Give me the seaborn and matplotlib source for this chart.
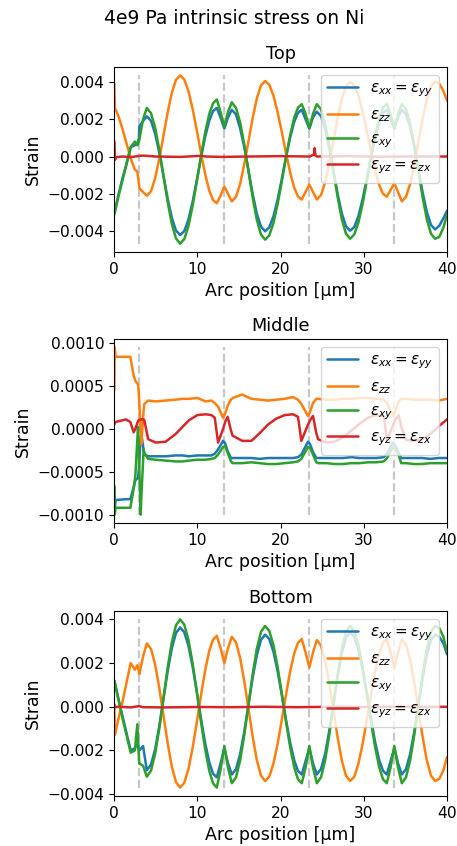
import numpy as np
import pandas as pd
import matplotlib
matplotlib.use("Agg")
import matplotlib.pyplot as plt
import seaborn as sns

# ---------------- data ----------------
labels = [r"$\varepsilon_{xx} = \varepsilon_{yy}$", r"$\varepsilon_{zz}$",
          r"$\varepsilon_{xy}$", r"$\varepsilon_{yz} = \varepsilon_{zx}$"]
panel_titles = ["Top", "Middle", "Bottom"]
interface_x = [3.04, 13.25, 23.46, 33.67]
x_ticks = [0, 10, 20, 30, 40]

# shared arc positions for the Top and Bottom panels
x_tb = [0.04, 0.1, 0.5, 1.0, 1.5, 2.0, 2.5, 2.8, 3.0,
        3.04, 3.49, 3.94, 4.44, 4.94, 5.44, 5.94, 6.44, 6.94, 7.44, 7.94, 8.44, 8.94, 9.44, 9.94,
        10.44, 10.94, 11.44, 11.89, 12.34, 12.79,
        13.25, 13.70, 14.15, 14.65, 15.15, 15.65, 16.15, 16.65, 17.15, 17.65, 18.15, 18.65, 19.15,
        19.65, 20.15, 20.65, 21.15, 21.65, 22.10, 22.55, 23.00,
        23.46, 23.91, 24.36, 24.86, 25.36, 25.86, 26.36, 26.86, 27.36, 27.86, 28.36, 28.86, 29.36,
        29.86, 30.36, 30.86, 31.36, 31.86, 32.31, 32.76, 33.21,
        33.67, 34.12, 34.57, 35.07, 35.57, 36.07, 36.57, 37.07, 37.57, 38.07, 38.57, 39.07, 39.57, 40.0]

top_xx = [-0.0029, -0.0029, -0.0021, -0.0012, -0.0004, 0.0005, 0.0006, 0.0007, 0.0010,
          0.0016, 0.0019, 0.00215, 0.00191, 0.00122, 0.00019, -0.00103, -0.00224, -0.00327, -0.00396, -0.0042,
          -0.00399, -0.00337, -0.00242, -0.00128, -0.00008, 0.00104, 0.00192, 0.00243, 0.0026, 0.0021,
          0.0015, 0.0021, 0.0025, 0.00225, 0.0015, 0.00049, -0.00075, -0.00199, -0.00305, -0.00375, -0.0040,
          -0.00379, -0.0032, -0.0023, -0.00121, -0.00005, 0.00101, 0.00186, 0.00234, 0.0025, 0.0020,
          0.0015, 0.0021, 0.0024, 0.00216, 0.00147, 0.00043, -0.00079, -0.0020, -0.00304, -0.00373, -0.00397,
          -0.00377, -0.00318, -0.00228, -0.0012, -0.00005, 0.0010, 0.00185, 0.00233, 0.0025, 0.0020,
          0.0015, 0.0021, 0.0025, 0.00226, 0.00156, 0.00053, -0.0007, -0.00193, -0.00296, -0.00366, -0.0039,
          -0.0037, -0.0033, -0.0029]
top_zz = [0.0039, 0.0026, 0.0022, 0.0015, 0.0007, -0.0001, -0.0007, -0.0008, -0.0015,
          -0.0017, -0.0019, -0.0021, -0.00186, -0.00116, -0.00011, 0.00112, 0.00235, 0.0034, 0.0041, 0.00434,
          0.00412, 0.0035, 0.00255, 0.00141, 0.0002, -0.00093, -0.00182, -0.00233, -0.0025, -0.0021,
          -0.0016, -0.0020, -0.0024, -0.00216, -0.00146, -0.00041, 0.00082, 0.00205, 0.0031, 0.0038, 0.00404,
          0.00384, 0.00326, 0.00238, 0.00132, 0.0002, -0.00084, -0.00167, -0.00214, -0.0023, -0.0019,
          -0.0015, -0.0019, -0.0023, -0.00206, -0.00138, -0.00036, 0.00085, 0.00206, 0.00308, 0.00376, 0.0040,
          0.00381, 0.00325, 0.00239, 0.00136, 0.00027, -0.00074, -0.00153, -0.00199, -0.00215, -0.0018,
          -0.00143, -0.0019, -0.0024, -0.00216, -0.00146, -0.00043, 0.0008, 0.00203, 0.00306, 0.00376, 0.0040,
          0.0039, 0.0035, 0.0030]
top_xy = [-0.0031, -0.0030, -0.0022, -0.0013, -0.0004, 0.0005, 0.0008, 0.0006, 0.0008,
          0.0009, 0.0020, 0.0026, 0.00232, 0.00154, 0.00036, -0.00103, -0.00242, -0.0036, -0.00438, -0.00466,
          -0.00442, -0.00372, -0.00264, -0.00135, 0.00001, 0.00128, 0.00228, 0.00285, 0.00305, 0.0024,
          0.0016, 0.0024, 0.0029, 0.0026, 0.00182, 0.00063, -0.00078, -0.00218, -0.00338, -0.00417, -0.00445,
          -0.00422, -0.00356, -0.00255, -0.00134, -0.00006, 0.00113, 0.00208, 0.00262, 0.0028, 0.0023,
          0.0015, 0.0023, 0.0028, 0.00253, 0.00175, 0.00058, -0.0008, -0.00218, -0.00335, -0.00413, -0.0044,
          -0.00417, -0.00352, -0.00252, -0.00131, -0.00004, 0.00114, 0.00208, 0.00262, 0.0028, 0.0023,
          0.0015, 0.0023, 0.0028, 0.00253, 0.00175, 0.00058, -0.0008, -0.00218, -0.00335, -0.00413, -0.0044,
          -0.0043, -0.0038, -0.0031]
top_yz_x = [0.05, 0.1, 0.3, 1.0, 2.0, 3.0, 3.5, 5.0, 8.0, 10.5, 11.0, 13.0, 16.0, 20.0, 23.5,
            24.0, 24.1, 24.2, 24.4, 28.0, 32.0, 36.0, 40.0]
top_yz = [0.0008, -0.00018, -0.00003, 0.0, -0.00003, 0.00003, 0.00005, 0.0, -0.00002, 0.00004, 0.0,
          -0.00002, 0.0, 0.00002, 0.0, 0.0001, 0.00045, 0.00005, 0.0, 0.00002, -0.00001, 0.0, 0.0]

x_mid = [0.04, 0.08, 0.2, 1.4, 1.96, 2.36, 2.56, 2.88, 2.96, 3.2, 3.28, 3.56, 3.64, 4.1, 5.0, 6.2, 7.4,
         8.2, 9.0, 10.0, 11.0, 11.7, 12.1, 12.5, 13.1, 13.35, 13.65, 14.05, 14.25, 15.4, 16.5, 17.5,
         18.5, 19.5, 20.5, 21.5, 22.1, 22.5, 23.3, 23.55, 23.9, 24.3, 24.5, 25.5, 26.5, 27.5, 28.5,
         29.5, 30.5, 31.5, 32.4, 32.8, 33.5, 33.75, 34.2, 34.5, 35.1, 36.0, 37.0, 38.0, 39.0, 40.0]
mid_xx = [-0.00067, -0.00094, -0.00083, -0.00082, -0.00082, -0.00068, -0.0006, -0.00057, -0.0005,
          -0.0001, -0.00006, -0.00025, -0.0003, -0.00032, -0.00032, -0.00032, -0.00031,
          -0.00031, -0.00032, -0.00031, -0.00031, -0.00031, -0.00029, -0.00024, -0.00014, -0.00017,
          -0.00026, -0.00034, -0.00034, -0.00034, -0.00034, -0.00035,
          -0.00034, -0.00034, -0.00034, -0.00034, -0.00033, -0.0003, -0.00015, -0.00018, -0.00027,
          -0.00034, -0.00034, -0.00034, -0.00034, -0.00034, -0.00033,
          -0.00034, -0.00034, -0.00034, -0.00033, -0.00029, -0.00016, -0.00019, -0.00028, -0.00034,
          -0.00034, -0.00034, -0.00034, -0.00035, -0.00034, -0.00034]
mid_zz = [0.00045, 0.00095, 0.00084, 0.00084, 0.00084, 0.00062, 0.00056, 0.00052, 0.00045, 0.0,
          -0.00018, 0.00022, 0.00029, 0.00033, 0.00032, 0.00033, 0.00034,
          0.00035, 0.00035, 0.00036, 0.00032, 0.00033, 0.0003, 0.00026, 0.00013, 0.00018, 0.00027,
          0.00034, 0.00036, 0.0004, 0.00035, 0.00034,
          0.00033, 0.00034, 0.00035, 0.00037, 0.00034, 0.00029, 0.00015, 0.0002, 0.0003, 0.00035,
          0.00035, 0.00034, 0.00034, 0.00035, 0.00035,
          0.00036, 0.00036, 0.00035, 0.00034, 0.0003, 0.00015, 0.0002, 0.00032, 0.00035, 0.00035,
          0.00034, 0.00034, 0.00034, 0.00033, 0.00035]
mid_xy = [-0.00067, -0.001, -0.00092, -0.00092, -0.00092, -0.0007, -0.00055, 0.00002, -0.0002,
          -0.001, -0.0008, -0.00024, -0.00028, -0.00035, -0.00036, -0.00037, -0.00038,
          -0.00038, -0.00037, -0.00036, -0.00036, -0.00035, -0.00034, -0.0003, -0.00021, -0.0002,
          -0.00028, -0.00038, -0.0004, -0.0004, -0.00039, -0.0004,
          -0.00041, -0.00041, -0.0004, -0.00039, -0.00038, -0.00035, -0.00021, -0.00022, -0.0003,
          -0.00039, -0.0004, -0.0004, -0.00041, -0.00041, -0.0004,
          -0.0004, -0.00039, -0.00039, -0.00038, -0.00034, -0.00021, -0.00023, -0.00031, -0.0004,
          -0.0004, -0.00041, -0.00041, -0.0004, -0.0004, -0.0004]
mid_yz = [0.00005, 0.00007, 0.00008, 0.00011, 0.00008, -0.00004, 0.0, 0.00009, 0.0001, 0.00011,
          0.00011, 0.00011, 0.0001, -0.00012, -0.00016, -0.00015, -0.00006,
          0.00002, 0.0001, 0.00016, 0.00017, 0.00016, 0.00013, -0.00016, 0.0, 0.00008, 0.00014,
          -0.00002, -0.00008, -0.00014, -0.00014, -0.00005,
          0.00005, 0.00012, 0.00016, 0.00017, 0.00014, -0.00014, 0.00005, 0.0001, 0.00015,
          -0.00005, -0.00012, -0.00016, -0.00015, -0.0001, -0.00002,
          0.00006, 0.00013, 0.00016, 0.00015, -0.00013, 0.00004, 0.0001, 0.00016, 0.00002,
          -0.00013, -0.00014, -0.00012, -0.00006, 0.00003, 0.00011]

bot_xx = [0.0012, 0.0011, 0.0004, -0.0004, -0.0012, -0.0020, -0.0019, -0.0017, -0.0020,
          -0.0020, -0.0018, -0.0029, -0.00265, -0.00194, -0.00089, 0.00037, 0.00162, 0.00267, 0.00338, 0.00363,
          0.00341, 0.00279, 0.00184, 0.00069, -0.00053, -0.00165, -0.00254, -0.00306, -0.00323, -0.0026,
          -0.0019, -0.0026, -0.0031, -0.00286, -0.00216, -0.00113, 0.0001, 0.00133, 0.00236, 0.00306, 0.0033,
          0.0031, 0.00252, 0.00163, 0.00055, -0.00058, -0.00163, -0.00246, -0.00294, -0.0031, -0.0025,
          -0.0019, -0.0026, -0.0031, -0.00285, -0.00215, -0.00109, 0.00015, 0.00139, 0.00245, 0.00315, 0.0034,
          0.0032, 0.0026, 0.0017, 0.00061, -0.00054, -0.00161, -0.00245, -0.00293, -0.0031, -0.0025,
          -0.0019, -0.0026, -0.0031, -0.00286, -0.00216, -0.00113, 0.0001, 0.00133, 0.00236, 0.00306, 0.0033,
          0.0032, 0.0029, 0.0024]
bot_zz = [0.0000, -0.0013, -0.0006, 0.0002, 0.0011, 0.0020, 0.0017, 0.0019, 0.0016,
          0.0015, 0.0023, 0.0029, 0.00265, 0.00193, 0.00086, -0.0004, -0.00166, -0.00273, -0.00345, -0.0037,
          -0.00348, -0.00285, -0.00188, -0.00072, 0.00051, 0.00165, 0.00256, 0.00307, 0.00325, 0.0027,
          0.0020, 0.0027, 0.0032, 0.00295, 0.00223, 0.00116, -0.0001, -0.00136, -0.00243, -0.00315, -0.0034,
          -0.0032, -0.0026, -0.0017, -0.00061, 0.00054, 0.00161, 0.00245, 0.00293, 0.0031, 0.0025,
          0.0018, 0.0025, 0.00305, 0.0028, 0.0021, 0.00106, -0.00018, -0.00141, -0.00246, -0.00316, -0.0034,
          -0.0032, -0.0026, -0.0017, -0.00061, 0.00054, 0.00161, 0.00245, 0.00293, 0.0031, 0.0025,
          0.0018, 0.0025, 0.0031, 0.00285, 0.00215, 0.00109, -0.00015, -0.00139, -0.00245, -0.00315, -0.0034,
          -0.0033, -0.0029, -0.0023]
bot_xy = [0.0012, 0.0011, 0.0004, -0.0005, -0.0013, -0.0021, -0.0020, -0.0008, -0.0024,
          -0.0026, -0.0027, -0.0032, -0.00293, -0.00215, -0.00098, 0.0004, 0.00178, 0.00295, 0.00373, 0.0040,
          0.00376, 0.00306, 0.00199, 0.0007, -0.00067, -0.00193, -0.00293, -0.0035, -0.0037, -0.0029,
          -0.0018, -0.0028, -0.0035, -0.00323, -0.00245, -0.00128, 0.0001, 0.00148, 0.00265, 0.00343, 0.0037,
          0.00347, 0.00282, 0.00182, 0.00061, -0.00066, -0.00184, -0.00278, -0.00332, -0.0035, -0.0028,
          -0.0018, -0.0028, -0.0035, -0.00323, -0.00245, -0.00128, 0.0001, 0.00148, 0.00265, 0.00343, 0.0037,
          0.00347, 0.00282, 0.00182, 0.00061, -0.00066, -0.00184, -0.00278, -0.00332, -0.0035, -0.0028,
          -0.0018, -0.0028, -0.0035, -0.00323, -0.00245, -0.00128, 0.0001, 0.00148, 0.00265, 0.00343, 0.0037,
          0.0036, 0.0032, 0.0025]
bot_yz_x = [0.05, 0.1, 0.5, 2, 3, 3.5, 6, 10, 14, 18, 22, 26, 30, 34, 37, 40]
bot_yz = [0.0001, -0.00002, 0.0, -0.00003, 0.00003, -0.00002, -0.00003, -0.00001, -0.00002, 0.0,
          -0.00002, 0.0, -0.00001, 0.0, -0.00001, 0.0]

# ---------------- style ----------------
sns.set_theme(style="ticks")
plt.rcParams.update({
    "font.family": ["DejaVu Sans"],
    "axes.edgecolor": "black", "axes.labelcolor": "black", "text.color": "black",
    "xtick.color": "black", "ytick.color": "black",
    "xtick.labelsize": 11.2, "ytick.labelsize": 11.2,
    "xtick.major.size": 3.5, "ytick.major.size": 3.5,
    "xtick.major.width": 0.8, "ytick.major.width": 0.8,
    "axes.linewidth": 0.8,
    "axes.labelsize": 12.5, "axes.titlesize": 12.7,
    "legend.fontsize": 11.0, "lines.linewidth": 1.8,
    "mathtext.fontset": "dejavusans",
})
colors = ["#1f77b4", "#ff7f0e", "#2ca02c", "#d62728"]

fig = plt.figure(figsize=(4.57, 8.46), dpi=100)
rects = [[0.2495, 0.7021, 0.7287, 0.2187],
         [0.2495, 0.3818, 0.7287, 0.2175],
         [0.2495, 0.0591, 0.7287, 0.2187]]

panels = [
    (x_tb, [top_xx, top_zz, top_xy], top_yz_x, top_yz),
    (x_mid, [mid_xx, mid_zz, mid_xy], x_mid, mid_yz),
    (x_tb, [bot_xx, bot_zz, bot_xy], bot_yz_x, bot_yz),
]

for rect, title, (xs, series, rx, ry) in zip(rects, panel_titles, panels):
    ax = fig.add_axes(rect)
    allv = np.concatenate([np.asarray(s) for s in series] + [np.asarray(ry)])
    ax.vlines(interface_x, allv.min(), allv.max(), colors="#c8c8c8",
              linestyles="--", linewidth=1.6, zorder=1)
    for s, lab, c in zip(series, labels[:3], colors[:3]):
        sns.lineplot(x=xs, y=s, ax=ax, color=c, label=lab, linewidth=1.8, zorder=2)
    sns.lineplot(x=rx, y=ry, ax=ax, color=colors[3], label=labels[3], linewidth=1.8, zorder=2)
    ax.set_xlim(0, 40)
    ax.set_xticks(x_ticks)
    ax.set_title(title)
    ax.set_xlabel("Arc position [µm]")
    ax.set_ylabel("Strain")
    ax.legend(loc="upper right")

fig.suptitle("4e9 Pa intrinsic stress on Ni", x=0.512, y=0.9787, va="center", fontsize=13.5)
fig.savefig("out.png", dpi=100)
